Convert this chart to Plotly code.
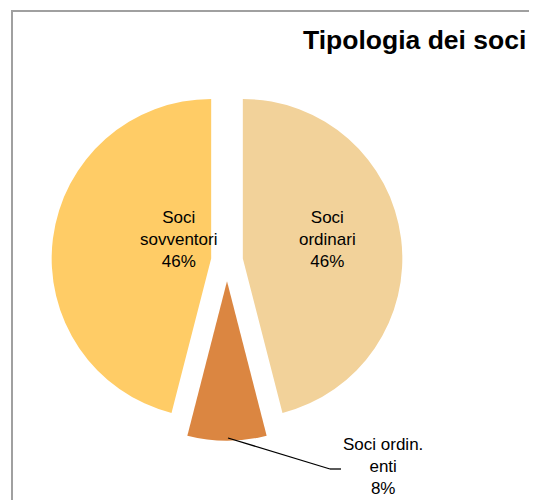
import plotly.graph_objects as go

labels = ["Soci ordinari", "Soci ordin. enti", "Soci sovventori"]
label_text = ["Soci<br>ordinari", "Soci ordin.<br>enti", "Soci<br>sovventori"]
values = [46, 8, 46]
colors = ["#F2D29A", "#DB8641", "#FFCC66"]
pulls = [0.10, 0.13, 0.10]

# page body has an 8px margin; figure sized to fill the rest of the 537x500 window
OFF = 8
W, H = 537 - OFF, 500 - OFF


def px(sx):
    return (sx - OFF) / W


def py(sy):
    return 1 - (sy - OFF) / H


total = sum(values)
pct = [f"{round(v / total * 100)}%" for v in values]

cx, cy, r = 227, 260.5, 159.5
half = r * (1 + max(pulls))

FONT = "Liberation Sans, Arial, sans-serif"

fig = go.Figure(go.Pie(
    labels=labels,
    values=values,
    textinfo="none",
    sort=False,
    direction="clockwise",
    rotation=0,
    pull=pulls,
    marker=dict(colors=colors, line=dict(width=0)),
    domain=dict(x=[px(cx - half), px(cx + half)], y=[py(cy + half), py(cy - half)]),
    showlegend=False,
    hoverinfo="label+percent",
))

# slice labels (screen positions of label centres)
label_pos = [(327, 239), (383, 466), (178, 239)]
for (lx, ly), t, p in zip(label_pos, label_text, pct):
    fig.add_annotation(
        x=px(lx), y=py(ly), xref="paper", yref="paper",
        text=f"{t}<br>{p}", showarrow=False, xanchor="center", yanchor="middle",
        font=dict(family=FONT, size=17, color="black"), align="center",
    )

# leader line for the small slice
fig.add_shape(type="line", xref="paper", yref="paper",
              x0=px(228), y0=py(438), x1=px(330), y1=py(469),
              line=dict(color="black", width=1.3))
fig.add_shape(type="line", xref="paper", yref="paper",
              x0=px(330), y0=py(469), x1=px(341), y1=py(469),
              line=dict(color="black", width=1.3))

# chart frame (cropped at right and bottom)
fig.add_shape(type="rect", xref="paper", yref="paper",
              x0=px(12), y0=-0.1, x1=1.1, y1=py(11),
              line=dict(color="#A0A0A0", width=2))

fig.add_annotation(
    x=px(528), y=py(40), xref="paper", yref="paper",
    text="<b>Tipologia dei soci</b>", showarrow=False, xanchor="right", yanchor="middle",
    font=dict(family=FONT, size=26.5, color="black"),
)

fig.update_layout(
    width=W, height=H,
    margin=dict(l=0, r=0, t=0, b=0),
    paper_bgcolor="white",
    plot_bgcolor="white",
)

fig.write_html("out.html")
